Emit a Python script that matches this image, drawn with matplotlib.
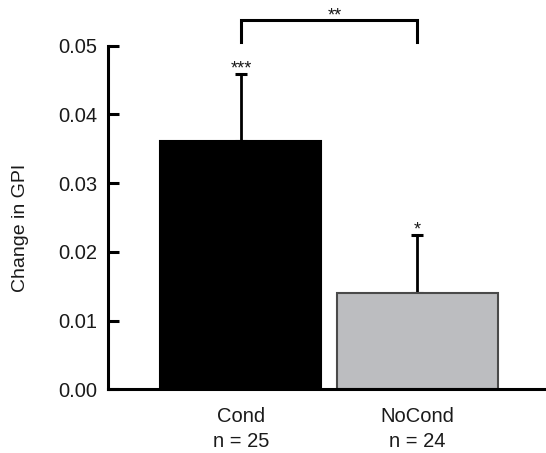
import numpy as np
import matplotlib.pyplot as plt

# datos
grupos = ['Cond', 'NoCond']
n_grupo = [25, 24]
cambio_gpi = [0.0362, 0.0140]
error_sup = [0.0097, 0.0085]
estrellas = ['***', '*']
estrella_par = '**'
colores = ['black', '#bcbdc0']
bordes = ['black', '#4a4a4a']

plt.rcParams['font.family'] = ['Liberation Sans', 'DejaVu Sans']
texto = '#1a1a1a'

fig = plt.figure(figsize=(5.46, 4.53), dpi=100)
ax = fig.add_axes([0.1969, 0.1406, 0.8031, 0.7585])

x = np.arange(len(grupos))
ax.errorbar(x, cambio_gpi, yerr=[np.zeros(len(x)), error_sup], fmt='none',
            ecolor='black', elinewidth=2.0, capsize=4, capthick=2.2, zorder=1)
ax.bar(x, cambio_gpi, width=0.912, color=colores, edgecolor=bordes,
       linewidth=1.5, zorder=2)

# estrellas sobre cada barra
tope = np.array(cambio_gpi) + np.array(error_sup)
for xi, yi, s in zip(x, tope, estrellas):
    ax.annotate(s, (xi, yi), xytext=(0, 0), textcoords='offset points',
                ha='center', va='baseline', fontsize=13, color=texto)

# corchete de comparacion entre grupos
y0 = tope.max() + 0.0046
y1 = y0 + 0.0033
ax.plot([x[0], x[0], x[1], x[1]], [y0, y1, y1, y0], color='black',
        lw=2.2, clip_on=False, solid_joinstyle='miter')
ax.annotate(estrella_par, ((x[0] + x[1]) / 2 + 0.03, y1), xytext=(0, -1),
            textcoords='offset points', ha='center', va='baseline',
            fontsize=13, color=texto, annotation_clip=False)

ax.set_xlim(-0.756, 1.728)
ax.set_ylim(0, 0.05)
ax.set_yticks([0, 0.01, 0.02, 0.03, 0.04, 0.05])
ax.set_yticklabels(['%.2f' % v for v in [0, 0.01, 0.02, 0.03, 0.04, 0.05]])
ax.set_xticks(x)
ax.set_xticklabels([f'{g}\nn = {n}' for g, n in zip(grupos, n_grupo)],
                   linespacing=1.4)
ax.tick_params(axis='y', direction='in', length=8, width=2.2, pad=7.5,
               labelsize=14.5, labelcolor=texto)
ax.tick_params(axis='x', length=0, pad=13, labelsize=14.5, labelcolor=texto)
ax.set_ylabel('Change in GPI', fontsize=14, color=texto)
ax.yaxis.set_label_coords(-0.18, 0.47)

for lado in ['top', 'right']:
    ax.spines[lado].set_visible(False)
for lado in ['left', 'bottom']:
    ax.spines[lado].set_linewidth(2.2)

plt.savefig('out.png', dpi=100)
